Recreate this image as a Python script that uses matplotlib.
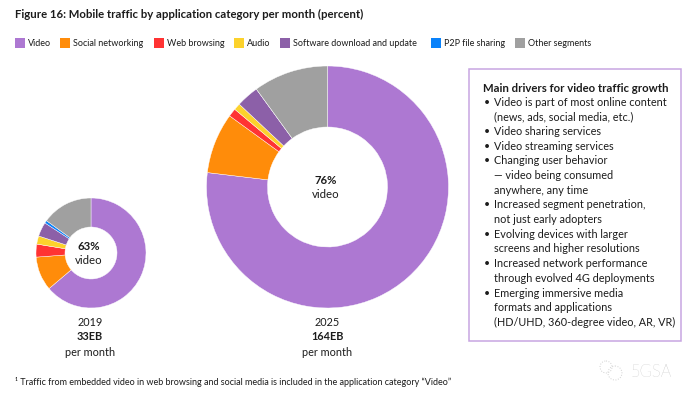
import matplotlib
matplotlib.use("Agg")
import matplotlib.pyplot as plt
from matplotlib.patches import Rectangle, Circle

plt.rcParams['font.family'] = ['Lato', 'DejaVu Sans']

W, H = 693, 400
categories = ["Video", "Social networking", "Web browsing", "Audio",
              "Software download and update", "P2P file sharing", "Other segments"]
colors = ["#AD78D2", "#FF8C0A", "#FF3333", "#FCD22C", "#8C60A8", "#0A82FA", "#A0A0A0"]
share_2019 = [63.8, 10.0, 3.8, 2.4, 4.2, 0.8, 15.0]
share_2025 = [76.9, 8.1, 1.1, 0.9, 3.0, 0.0, 10.0]
legend_swatch_x = [15, 60, 154, 234, 280, 431, 515]
legend_text_x = [28, 73, 167, 247, 293, 444, 528]
drivers = [
    ("Video is part of most online content", True), ("(news, ads, social media, etc.)", False),
    ("Video sharing services", True), ("Video streaming services", True),
    ("Changing user behavior", True), ("— video being consumed", False), ("anywhere, any time", False),
    ("Increased segment penetration,", True), ("not just early adopters", False),
    ("Evolving devices with larger", True), ("screens and higher resolutions", False),
    ("Increased network performance", True), ("through evolved 4G deployments", False),
    ("Emerging immersive media", True), ("formats and applications", False),
    ("(HD/UHD, 360-degree video, AR, VR)", False),
]

fig = plt.figure(figsize=(W / 100, H / 100), dpi=100, facecolor="white")
bg = fig.add_axes([0, 0, 1, 1])
bg.set_xlim(0, W)
bg.set_ylim(H, 0)
bg.axis("off")

TXT = "#1c1c1c"
bg.text(15, 14.5, "Figure 16: Mobile traffic by application category per month (percent)",
        fontsize=8.2, fontweight="bold", color=TXT, va="center", ha="left")

for c, col, sx, tx in zip(categories, colors, legend_swatch_x, legend_text_x):
    bg.add_patch(Rectangle((sx, 38), 10, 10, facecolor=col, edgecolor="none"))
    bg.text(tx, 43, c, fontsize=6.45, color=TXT, va="center", ha="left")


def donut(cx, cy, r, hole, values):
    ax = fig.add_axes([(cx - r) / W, 1 - (cy + r) / H, 2 * r / W, 2 * r / H])
    ax.pie(values, colors=colors, startangle=90, counterclock=False, radius=1,
           wedgeprops=dict(width=1 - hole / r, linewidth=0.3, edgecolor="white"))
    ax.set_xlim(-1, 1)
    ax.set_ylim(-1, 1)
    ax.set_aspect("equal")
    ax.axis("off")


donut(91, 253, 55, 26, share_2019)
donut(327.5, 187, 121, 60, share_2025)

bg.text(89, 247, "63%", fontsize=8.2, fontweight="bold", color=TXT, ha="center", va="center")
bg.text(89, 260, "video", fontsize=8.2, color=TXT, ha="center", va="center")
bg.text(326, 181, "76%", fontsize=8.2, fontweight="bold", color=TXT, ha="center", va="center")
bg.text(326, 194, "video", fontsize=8.2, color=TXT, ha="center", va="center")

for x, year, vol in [(90, "2019", "33EB"), (327, "2025", "164EB")]:
    bg.text(x, 322, year, fontsize=7.8, color=TXT, ha="center", va="center")
    bg.text(x, 337, vol, fontsize=7.8, fontweight="bold", color=TXT, ha="center", va="center")
    bg.text(x, 352, "per month", fontsize=7.8, color=TXT, ha="center", va="center")

bg.add_patch(Rectangle((468.5, 68.5), 212.5, 272.5, facecolor="white", edgecolor="#C8A5E2", linewidth=1.1))
bg.text(483, 88, "Main drivers for video traffic growth", fontsize=8.2, fontweight="bold",
        color=TXT, va="center", ha="left")
y0, step = 102.3, 14.67
for i, (line, bullet) in enumerate(drivers):
    y = y0 + i * step
    if bullet:
        bg.text(484, y, "•", fontsize=7.6, color=TXT, va="center", ha="left")
    bg.text(494, y, line, fontsize=7.85, color=TXT, va="center", ha="left")

bg.text(15, 382, "¹ Traffic from embedded video in web browsing and social media is included in the application category “Video”",
        fontsize=6.45, color=TXT, va="center", ha="left")

# watermark
bg.text(651, 372, "5GSA", fontsize=12, color="#a8a8a8", va="center", ha="center", fontweight="light")
bg.add_patch(Circle((615, 373), 7, facecolor="none", edgecolor="#d0d0d0", linewidth=0.7, linestyle=":"))
bg.add_patch(Circle((606, 367), 6, facecolor="none", edgecolor="#d0d0d0", linewidth=0.7, linestyle=":"))

fig.savefig("out.png", dpi=100, facecolor="white")
